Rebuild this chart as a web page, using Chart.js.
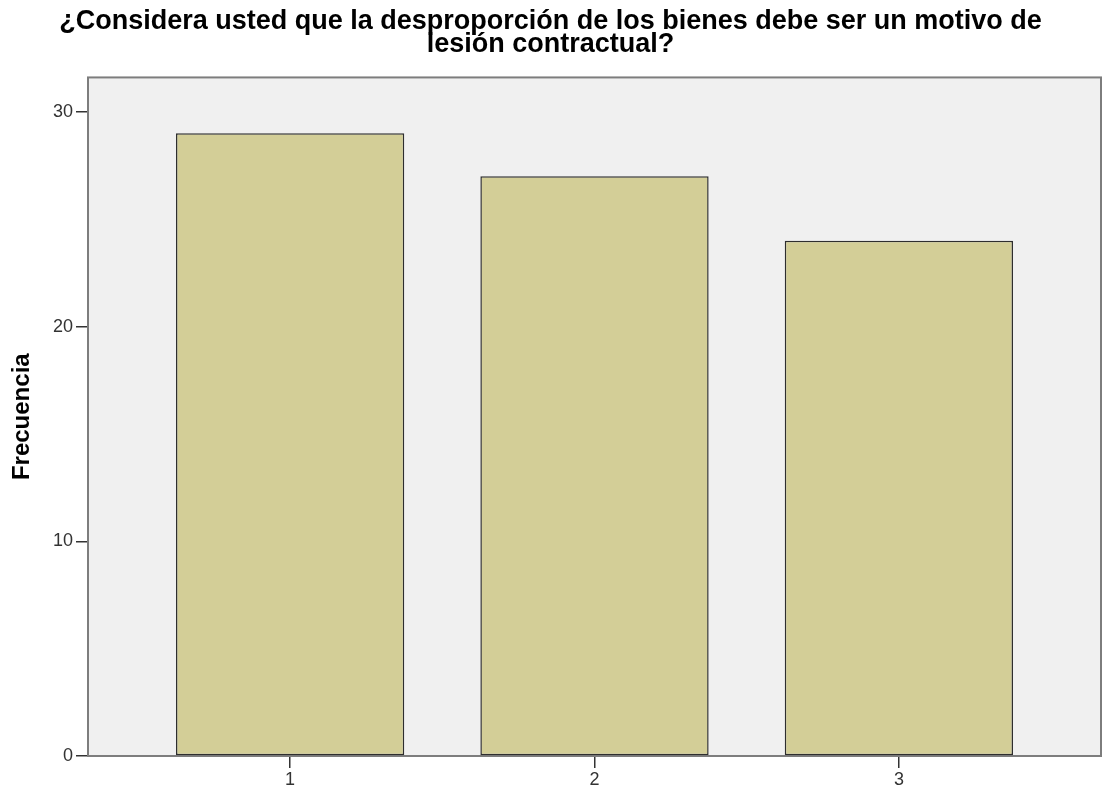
<!DOCTYPE html>
<html>
<head>
<meta charset="utf-8">
<script src="https://cdn.jsdelivr.net/npm/chart.js@4/dist/chart.umd.min.js"></script>
<style>
  html, body { margin: 0; padding: 0; background: #fff; }
  #wrap { width: 1105px; height: 789px; }
</style>
</head>
<body>
<div id="wrap"><canvas id="chart" width="1105" height="789"></canvas></div>
<script>
const categories = [1, 2, 3];
const frequencies = [29, 27, 24];
const yTicks = [0, 10, 20, 30];

const titleLines = [
  '¿Considera usted que la desproporción de los bienes debe ser un motivo de',
  'lesión contractual?'
];

const ctx = document.getElementById('chart').getContext('2d');

// Grey plot background with a frame, drawn before the bars
const plotFrame = {
  id: 'plotFrame',
  beforeDatasetsDraw(chart) {
    const { ctx, chartArea: a } = chart;
    ctx.save();
    ctx.fillStyle = '#f0f0f0';
    ctx.fillRect(a.left, a.top, a.right - a.left, a.bottom - a.top);
    ctx.strokeStyle = '#7d7d7d';
    ctx.lineWidth = 2;
    ctx.strokeRect(a.left, a.top, a.right - a.left, a.bottom - a.top);
    ctx.restore();
  }
};

new Chart(ctx, {
  type: 'bar',
  data: {
    datasets: [{
      data: categories.map((c, i) => ({ x: c, y: frequencies[i] })),
      backgroundColor: '#d3ce97',
      borderColor: '#2e2e2e',
      borderWidth: 1.5,
      borderSkipped: false,
      barPercentage: 0.75,
      categoryPercentage: 1
    }]
  },
  options: {
    responsive: false,
    animation: false,
    layout: { padding: { right: 4 } },
    plugins: {
      legend: { display: false },
      tooltip: { enabled: false },
      title: {
        display: true,
        text: titleLines,
        color: '#000',
        font: { family: 'Liberation Sans, Arial', size: 27, weight: 'bold', lineHeight: 0.86 },
        padding: { top: 10, bottom: 21 }
      }
    },
    scales: {
      x: {
        type: 'linear',
        offset: false,
        min: 0.336,
        max: 3.664,
        afterBuildTicks: (scale) => { scale.ticks = categories.map(v => ({ value: v })); },
        afterFit: (scale) => { scale.height = 33; },
        grid: { offset: false, drawOnChartArea: false, tickLength: 12, color: '#333', lineWidth: 1.5 },
        border: { color: '#333', width: 1.5 },
        ticks: { color: '#333', font: { family: 'Liberation Sans, Arial', size: 18 }, padding: 1 }
      },
      y: {
        min: 0,
        max: 31.6,
        afterBuildTicks: (scale) => { scale.ticks = yTicks.map(v => ({ value: v })); },
        afterFit: (scale) => { scale.width = 88; },
        grid: { drawOnChartArea: false, tickLength: 12, color: '#333', lineWidth: 1.5 },
        border: { color: '#333', width: 1.5 },
        ticks: { color: '#333', font: { family: 'Liberation Sans, Arial', size: 18 }, padding: 3 },
        title: {
          display: true,
          text: 'Frecuencia',
          color: '#000',
          font: { family: 'Liberation Sans, Arial', size: 24, weight: 'bold', lineHeight: 1 },
          padding: { top: 10, bottom: 0 }
        }
      }
    }
  },
  plugins: [plotFrame]
});
</script>
</body>
</html>
